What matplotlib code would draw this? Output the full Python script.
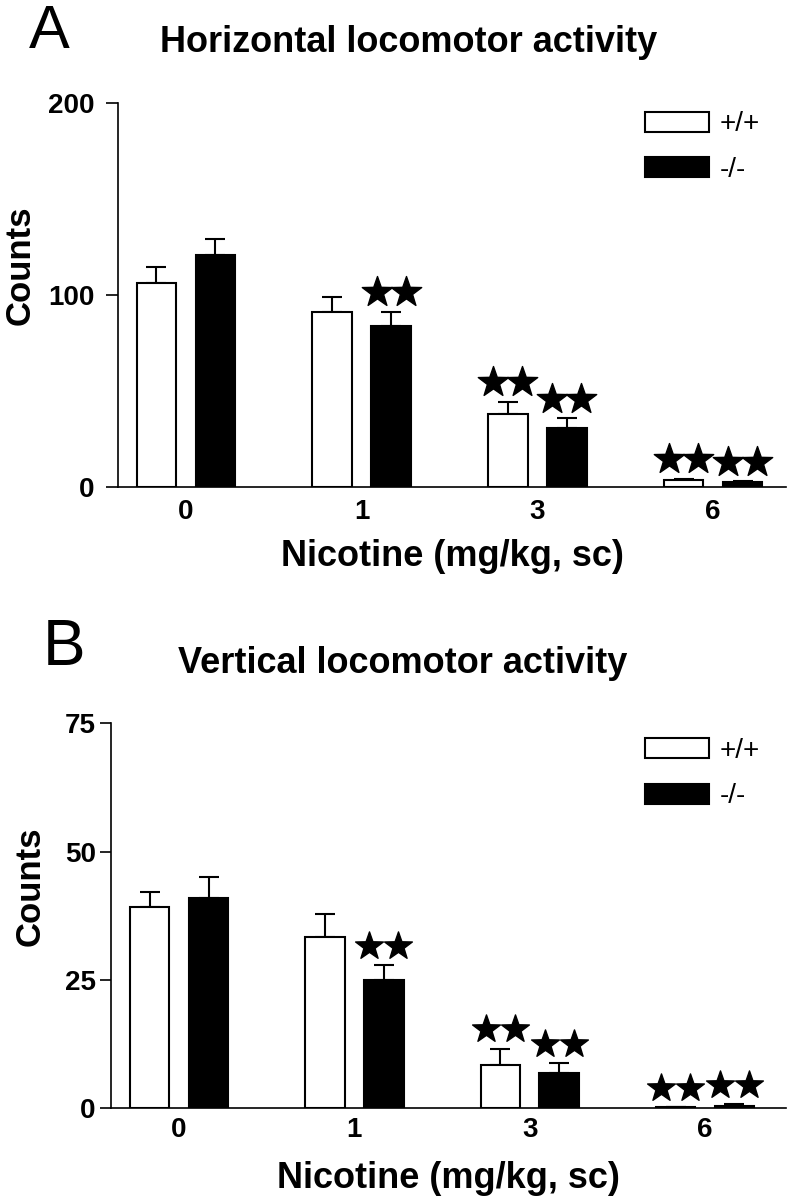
import matplotlib
matplotlib.use("Agg")
import numpy as np
import matplotlib.pyplot as plt
from matplotlib.patches import Patch
from matplotlib.path import Path
from matplotlib import transforms as mtransforms

plt.rcParams["font.family"] = ["Liberation Sans", "DejaVu Sans"]

# ----------------------------------------------------------------------
# Data
# ----------------------------------------------------------------------
doses = ["0", "1", "3", "6"]
genotypes = ["+/+", "-/-"]

horiz_wt_mean = [106, 91, 38, 3.5]
horiz_wt_sem = [8.5, 8, 6.5, 0.8]
horiz_ko_mean = [121, 84, 30.5, 2.5]
horiz_ko_sem = [8, 7.3, 5.3, 0.6]

vert_wt_mean = [39.2, 33.3, 8.4, 0.2]
vert_wt_sem = [3, 4.5, 3.2, 0]
vert_ko_mean = [40.9, 25, 6.8, 0.5]
vert_ko_sem = [4.1, 2.9, 2, 0.3]

# number of significance stars per bar
wt_stars = [0, 0, 2, 2]
ko_stars = [0, 2, 2, 2]

BAR_W = 0.225
OFFSET = 0.168
STAR = Path.unit_regular_star(5, innerCircle=0.4)


def draw_panel(fig, ax, wt_mean, wt_sem, ko_mean, ko_sem, ymax, yticks,
               xlim, tick_len, tick_pad, xpad, labelpad, star_ms,
               ylabel_xy, legend_xy):
    x = np.arange(len(doses))
    xw = x - OFFSET
    xk = x + OFFSET

    ax.errorbar(xw, wt_mean, yerr=[np.zeros(len(x)), wt_sem], fmt="none",
                ecolor="black", elinewidth=1.5, capsize=7.5, capthick=1.5, zorder=1)
    ax.errorbar(xk, ko_mean, yerr=[np.zeros(len(x)), ko_sem], fmt="none",
                ecolor="black", elinewidth=1.5, capsize=7.5, capthick=1.5, zorder=1)
    ax.bar(xw, wt_mean, BAR_W, facecolor="white", edgecolor="black", linewidth=1.5, zorder=2)
    ax.bar(xk, ko_mean, BAR_W, facecolor="black", edgecolor="black", linewidth=1.5, zorder=2)

    # stars sit a fixed distance above the top of each error bar
    star_trans = mtransforms.offset_copy(ax.transData, fig=fig, y=14, units="points")
    for xs, means, sems, nstars in [(xw, wt_mean, wt_sem, wt_stars),
                                    (xk, ko_mean, ko_sem, ko_stars)]:
        for xi, m, s, n in zip(xs, means, sems, nstars):
            if n == 0:
                continue
            sx = xi + (np.arange(n) - (n - 1) / 2) * 0.165
            ax.plot(sx, [m + s] * n, ls="none", marker=STAR, ms=star_ms,
                    color="black", transform=star_trans, clip_on=False, zorder=3)

    ax.set_xlim(*xlim)
    ax.set_ylim(0, ymax)
    ax.set_yticks(yticks)
    ax.set_xticks(x)
    ax.set_xticklabels(doses)
    for side in ["top", "right"]:
        ax.spines[side].set_visible(False)
    for side in ["left", "bottom"]:
        ax.spines[side].set_linewidth(1.2)
    ax.tick_params(axis="y", length=tick_len, width=1.2, pad=tick_pad, labelsize=20)
    ax.tick_params(axis="x", length=0, pad=xpad, labelsize=20)
    for lab in ax.get_xticklabels() + ax.get_yticklabels():
        lab.set_fontweight("bold")

    ax.set_xlabel("Nicotine (mg/kg, sc)", fontsize=26, fontweight="bold", labelpad=labelpad)
    ax.set_ylabel("Counts", fontsize=25, fontweight="bold")
    ax.yaxis.set_label_coords(*ylabel_xy)

    handles = [Patch(facecolor="white", edgecolor="black", linewidth=1.5),
               Patch(facecolor="black", edgecolor="black", linewidth=1.5)]
    ax.legend(handles, genotypes, loc="upper left", bbox_to_anchor=legend_xy,
              frameon=False, borderpad=0, borderaxespad=0, fontsize=20,
              handlelength=2.3, handleheight=0.75, handletextpad=0.4,
              labelspacing=0.7)


fig = plt.figure(figsize=(7.88, 12.0), dpi=100)

ax_a = fig.add_axes([0.1497, 0.5942, 0.8477, 0.32])
draw_panel(fig, ax_a, horiz_wt_mean, horiz_wt_sem, horiz_ko_mean, horiz_ko_sem,
           200, [0, 100, 200], (-0.387, 3.415), 9, 8, 9, 10, 23,
           (-0.122, 0.578), (0.789, 0.978))

ax_b = fig.add_axes([0.1409, 0.0764, 0.8566, 0.3208])
draw_panel(fig, ax_b, vert_wt_mean, vert_wt_sem, vert_ko_mean, vert_ko_sem,
           75, [0, 25, 50, 75], (-0.388, 3.462), 8, 3, 6, 13, 21,
           (-0.095, 0.577), (0.791, 0.962))

fig.text(0.518, 0.9564, "Horizontal locomotor activity", ha="center", va="baseline",
         fontsize=26, fontweight="bold")
fig.text(0.511, 0.4392, "Vertical locomotor activity", ha="center", va="baseline",
         fontsize=26, fontweight="bold")
fig.text(0.0368, 0.96, "A", ha="left", va="baseline", fontsize=44)
fig.text(0.0546, 0.4458, "B", ha="left", va="baseline", fontsize=46)

fig.savefig("out.png", dpi=100)
